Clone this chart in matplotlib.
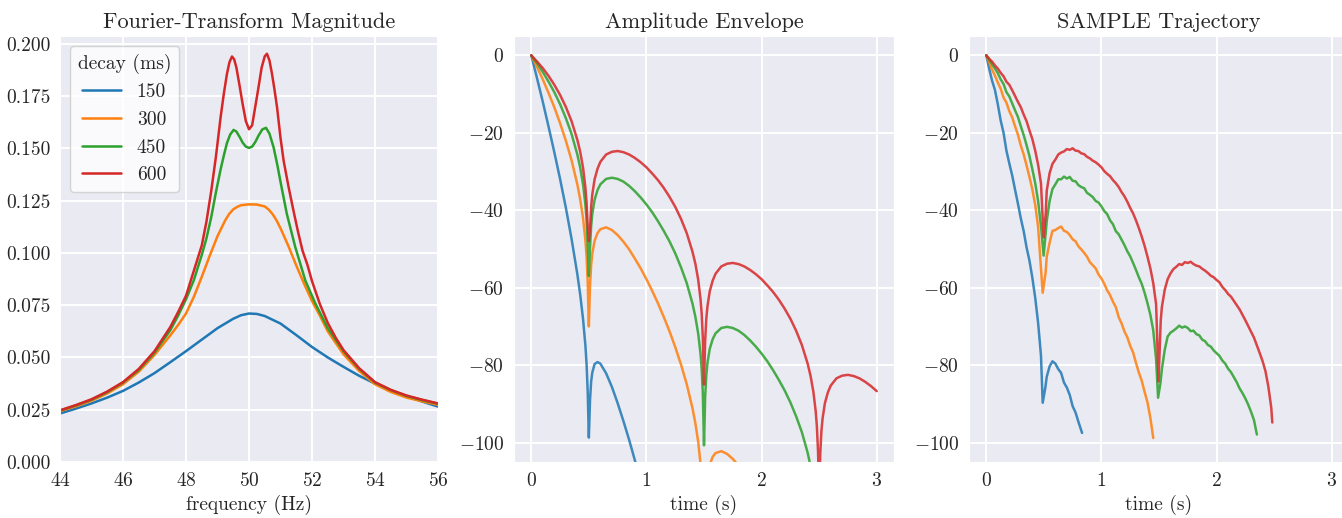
import matplotlib
matplotlib.use("Agg")
import matplotlib.pyplot as plt
import numpy as np
import seaborn as sns

sns.set_style("darkgrid")
plt.rcParams['font.family'] = 'serif'
plt.rcParams['font.serif'] = ['cmr10']
plt.rcParams['mathtext.fontset'] = 'cm'
plt.rcParams['axes.formatter.use_mathtext'] = True
plt.rcParams['grid.linewidth'] = 1.4

decays = ['150', '300', '450', '600']
colors = ['#1f77b4', '#ff7f0e', '#2ca02c', '#d62728']

# --- panel 1: spectrum magnitude
freq_600 = [44, 44.5, 45, 45.5, 46, 46.5, 47, 47.5, 47.75, 48, 48.25, 48.5, 48.65, 48.8,
            48.95, 49.1, 49.2, 49.3, 49.38, 49.46, 49.53, 49.6, 49.7, 49.8, 49.9, 50.0,
            50.1, 50.2, 50.3, 50.4, 50.5, 50.57, 50.65, 50.73, 50.81, 50.89, 51.0, 51.1,
            51.25, 51.4, 51.55, 51.7, 51.85, 52, 52.25, 52.5, 52.75, 53, 53.5, 54, 54.5,
            55, 55.5, 56]
mag_600 = [0.0247, 0.0272, 0.0300, 0.0337, 0.0382, 0.0445, 0.0530, 0.0645, 0.0717, 0.0795,
           0.0915, 0.1035, 0.1150, 0.1295, 0.1460, 0.1650, 0.1760, 0.1856, 0.1912, 0.1939,
           0.1925, 0.1886, 0.1800, 0.1710, 0.1630, 0.1591, 0.1610, 0.1700, 0.1790, 0.1885,
           0.1940, 0.1952, 0.1920, 0.1856, 0.1780, 0.1697, 0.1550, 0.1440, 0.1320, 0.1210,
           0.1105, 0.1010, 0.0945, 0.0865, 0.0755, 0.0665, 0.0595, 0.0535, 0.0448, 0.0382,
           0.0345, 0.0318, 0.0298, 0.0280]
freq_450 = [44, 44.5, 45, 45.5, 46, 46.5, 47, 47.5, 47.75, 48, 48.25, 48.5, 48.65, 48.8,
            48.95, 49.1, 49.2, 49.3, 49.4, 49.51, 49.6, 49.7, 49.8, 49.9, 50.0, 50.1,
            50.2, 50.3, 50.42, 50.54, 50.65, 50.78, 50.9, 51.0, 51.2, 51.47, 51.79, 52.1,
            52.5, 53, 53.5, 54, 54.5, 55, 55.5, 56]
mag_450 = [0.0246, 0.0270, 0.0298, 0.0334, 0.0380, 0.0440, 0.0523, 0.0630, 0.0700, 0.0778,
           0.0870, 0.0990, 0.1070, 0.1170, 0.1290, 0.1400, 0.1465, 0.1525, 0.1565, 0.1588,
           0.1580, 0.1555, 0.1527, 0.1508, 0.1502, 0.1508, 0.1530, 0.1560, 0.1590, 0.1598,
           0.1570, 0.1505, 0.1420, 0.1340, 0.1187, 0.1027, 0.0867, 0.0760, 0.0640, 0.0530,
           0.0445, 0.0380, 0.0344, 0.0316, 0.0296, 0.0279]
freq_300 = [44, 44.5, 45, 45.5, 46, 46.5, 47, 47.5, 47.75, 48, 48.25, 48.5, 48.75, 49,
            49.25, 49.375, 49.5, 49.625, 49.75, 50, 50.25, 50.5, 50.625, 50.75, 50.875,
            51, 51.25, 51.5, 51.75, 52, 52.25, 52.5, 53, 53.5, 54, 54.5, 55, 55.5, 56]
mag_300 = [0.0243, 0.0266, 0.0293, 0.0328, 0.0372, 0.0432, 0.0512, 0.0605, 0.0655, 0.0710,
           0.0790, 0.0885, 0.0985, 0.1080, 0.1157, 0.1187, 0.1208, 0.1220, 0.1228, 0.1232,
           0.1231, 0.1222, 0.1207, 0.1185, 0.1155, 0.1118, 0.1033, 0.0940, 0.0852, 0.0770,
           0.0700, 0.0625, 0.0515, 0.0435, 0.0372, 0.0335, 0.0308, 0.0290, 0.0274]
freq_150 = [44, 44.5, 45, 45.5, 46, 46.5, 47, 47.5, 48, 48.5, 49, 49.5, 49.75, 50, 50.25,
            50.5, 51, 51.5, 52, 52.5, 53, 53.5, 54, 54.5, 55, 55.5, 56]
mag_150 = [0.0232, 0.0255, 0.0280, 0.0308, 0.0340, 0.0380, 0.0425, 0.0477, 0.0530, 0.0585,
           0.0640, 0.0685, 0.0702, 0.0710, 0.0708, 0.0698, 0.0662, 0.0607, 0.0550, 0.0500,
           0.0455, 0.0412, 0.0375, 0.0343, 0.0315, 0.0289, 0.0265]

# --- panel 2: amplitude envelope (dB)
env_t = [0, 0.05, 0.1, 0.15, 0.2, 0.25, 0.3, 0.35, 0.4, 0.425, 0.45, 0.47, 0.48, 0.49,
         0.5, 0.51, 0.52, 0.53, 0.55, 0.575, 0.6, 0.65, 0.7, 0.75, 0.8, 0.85, 0.9, 0.95,
         1.0, 1.05, 1.1, 1.15, 1.2, 1.25, 1.3, 1.35, 1.4, 1.425, 1.45, 1.47, 1.48, 1.49,
         1.5, 1.51, 1.52, 1.53, 1.55, 1.575, 1.6, 1.65, 1.7, 1.75, 1.8, 1.85, 1.9, 1.95,
         2.0, 2.05, 2.1, 2.15, 2.2, 2.25, 2.3, 2.35, 2.4, 2.425, 2.45, 2.47, 2.48, 2.49,
         2.5, 2.51, 2.52, 2.53, 2.55, 2.575, 2.6, 2.65, 2.7, 2.75, 2.8, 2.85, 2.9, 2.95,
         3.0]
env_150 = [0, -5.9, -12.0, -18.4, -25.0, -31.9, -39.3, -47.4, -56.5, -61.8, -68.2, -74.9,
           -79.6, -86.8, -98.7, -89.1, -84.2, -81.9, -79.7, -79.2, -79.6, -82.1, -85.6,
           -89.8, -94.4, -99.3, -104.6, -110.0]
env_300 = [0, -3.0, -6.2, -9.7, -13.4, -17.5, -22.0, -27.1, -33.3, -37.2, -42.1, -47.7,
           -51.8, -58.4, -70.0, -59.5, -54.1, -51.2, -47.9, -45.9, -44.9, -44.4, -45.1,
           -46.4, -48.1, -50.1, -52.5, -55.0,
           -57.8, -60.8, -64.0, -67.5, -71.2, -75.3, -79.8, -84.9, -91.1, -95.0, -99.9,
           -105.5, -109.6, -116.2, -128.0, -117.3, -111.9, -109.0, -105.7, -103.7, -102.7,
           -102.2, -102.9, -104.2, -105.9, -107.9]
env_450 = [0, -2.0, -4.3, -6.8, -9.5, -12.6, -16.2, -20.3, -25.6, -29.0, -33.4, -38.6,
           -42.5, -48.9, -57.0, -49.7, -44.1, -40.9, -37.3, -34.8, -33.3, -31.9, -31.6,
           -31.9, -32.6, -33.7, -35.1, -36.7,
           -38.5, -40.5, -42.8, -45.3, -48.0, -51.1, -54.7, -58.8, -64.1, -67.5, -71.9,
           -77.1, -81.0, -87.4, -100.7, -88.2, -82.6, -79.4, -75.8, -73.3, -71.8, -70.4,
           -70.1, -70.4, -71.1, -72.2, -73.6, -75.2,
           -77.0, -79.0, -81.3, -83.8, -86.5, -89.6, -93.2, -97.3, -102.6, -106.0, -110.4]
env_600 = [0, -1.6, -3.3, -5.3, -7.6, -10.2, -13.3, -17.0, -21.8, -24.9, -29.1, -34.1,
           -37.9, -44.2, -48.0, -44.8, -39.1, -35.9, -32.0, -29.3, -27.5, -25.6, -24.9,
           -24.7, -25.0, -25.6, -26.5, -27.6,
           -28.9, -30.5, -32.2, -34.2, -36.5, -39.1, -42.2, -45.9, -50.7, -53.8, -58.0,
           -63.0, -66.8, -73.1, -85.0, -73.7, -68.0, -64.8, -60.9, -58.2, -56.4, -54.5,
           -53.8, -53.6, -53.9, -54.5, -55.4, -56.5,
           -57.8, -59.4, -61.1, -63.1, -65.4, -68.0, -71.1, -74.8, -79.6, -82.7, -86.9,
           -91.9, -95.7, -102.0, -113.3, -102.6, -96.9, -93.7, -89.8, -87.1, -85.3, -83.4,
           -82.7, -82.5, -82.8, -83.4, -84.3, -85.4,
           -86.7]

# --- panel 3: sampled trajectories (dB)
traj_t_150 = [0, 0.025, 0.05, 0.075, 0.1, 0.125, 0.15, 0.175, 0.2, 0.225, 0.25, 0.275,
              0.3, 0.325, 0.35, 0.375, 0.4, 0.425, 0.45, 0.475, 0.49, 0.513, 0.525, 0.55,
              0.575, 0.6, 0.625, 0.65, 0.675, 0.7, 0.725, 0.75, 0.775, 0.8, 0.832]
traj_150 = [0, -3.4, -6.5, -8.9, -12.6, -16.8, -20.0, -24.6, -27.9, -31.0, -34.7, -38.3,
            -42.1, -45.4, -49.6, -53.0, -57.4, -62.6, -69.0, -77.5, -89.7, -85.8, -83.0,
            -80.3, -79.0, -79.6, -81.0, -82.0, -84.5, -85.8, -87.7, -90.6, -92.2, -94.6,
            -97.5]
traj_t_300 = [0, 0.025, 0.05, 0.075, 0.1, 0.125, 0.15, 0.175, 0.2, 0.225, 0.25, 0.275,
              0.3, 0.325, 0.35, 0.375, 0.4, 0.425, 0.45, 0.475, 0.49, 0.515, 0.525, 0.55,
              0.575, 0.6, 0.625, 0.65, 0.675, 0.7, 0.725, 0.75, 0.775, 0.8, 0.825, 0.85,
              0.875, 0.9, 0.925, 0.95, 0.975, 1.0, 1.025, 1.05, 1.075, 1.1, 1.125, 1.15,
              1.175, 1.2, 1.225, 1.25, 1.275, 1.3, 1.325, 1.35, 1.375, 1.4, 1.425, 1.45]
traj_300 = [0, -1.8, -3.7, -5.2, -7.0, -8.6, -10.9, -12.2, -14.4, -16.0, -18.3, -20.5,
            -23.3, -25.6, -28.4, -31.4, -34.6, -38.6, -44.2, -55.0, -61.3, -56.2, -52.0,
            -48.4, -45.3, -45.1, -44.6, -44.2, -45.3, -45.6, -46.4, -47.5, -48.0, -49.3,
            -50.1, -51.0, -52.0, -53.4, -54.2, -55.0, -56.6, -57.6, -59.0, -60.7, -61.9,
            -63.6, -65.0, -67.6, -69.2, -71.3, -72.8, -75.0, -76.7, -79.4, -81.9, -84.0,
            -86.9, -89.6, -93.6, -98.8]
traj_t_450 = [0, 0.025, 0.05, 0.075, 0.1, 0.125, 0.15, 0.175, 0.2, 0.225, 0.25, 0.275,
              0.3, 0.325, 0.35, 0.375, 0.4, 0.425, 0.45, 0.475, 0.498, 0.516, 0.525, 0.55,
              0.575, 0.6, 0.625, 0.65, 0.675, 0.7, 0.725, 0.75, 0.775, 0.8, 0.825, 0.85,
              0.875, 0.9, 0.925, 0.95, 0.975, 1.0, 1.025, 1.05, 1.075, 1.1, 1.125, 1.15,
              1.175, 1.2, 1.225, 1.25, 1.275, 1.3, 1.325, 1.35, 1.375, 1.4, 1.425, 1.45,
              1.475, 1.492, 1.513, 1.525, 1.55, 1.575, 1.6, 1.625, 1.65, 1.675, 1.7, 1.725,
              1.75, 1.775, 1.8, 1.825, 1.85, 1.875, 1.9, 1.925, 1.95, 1.975, 2.0, 2.025,
              2.05, 2.075, 2.1, 2.125, 2.15, 2.175, 2.2, 2.225, 2.25, 2.275, 2.3, 2.325,
              2.35]
traj_450 = [0, -1.0, -2.3, -3.4, -4.6, -6.2, -7.4, -9.5, -10.6, -12.4, -14.2, -15.9,
            -18.3, -20.6, -23.2, -26.0, -29.4, -33.0, -37.6, -44.0, -51.7, -45.9, -42.8,
            -37.6, -34.5, -33.3, -32.0, -32.0, -31.3, -31.8, -31.4, -32.4, -32.5, -33.5,
            -34.0, -34.3, -35.5, -36.0, -36.6, -37.6, -38.0, -39.0, -40.2, -41.0, -42.6,
            -43.6, -45.4, -46.2, -47.6, -49.0, -50.6, -51.9, -53.6, -55.4, -57.3, -59.0,
            -61.3, -64.0, -67.0, -71.0, -78.5, -88.4, -84.5, -81.0, -76.0, -72.6, -71.6,
            -71.1, -70.5, -69.8, -70.3, -70.0, -70.4, -71.2, -71.1, -72.0, -72.3, -73.4,
            -73.8, -74.8, -75.2, -76.2, -76.9, -77.6, -78.8, -79.6, -80.9, -81.8, -83.1,
            -84.4, -86.0, -87.2, -88.6, -90.2, -92.1, -94.2, -97.9]
traj_t_600 = [0, 0.025, 0.05, 0.075, 0.1, 0.125, 0.15, 0.175, 0.2, 0.225, 0.25, 0.275,
              0.3, 0.325, 0.35, 0.375, 0.4, 0.425, 0.45, 0.475, 0.498, 0.516, 0.525, 0.55,
              0.575, 0.6, 0.625, 0.65, 0.675, 0.7, 0.725, 0.75, 0.775, 0.8, 0.825, 0.85,
              0.875, 0.9, 0.925, 0.95, 0.975, 1.0, 1.025, 1.05, 1.075, 1.1, 1.125, 1.15,
              1.175, 1.2, 1.225, 1.25, 1.275, 1.3, 1.325, 1.35, 1.375, 1.4, 1.425, 1.45,
              1.475, 1.496, 1.515, 1.525, 1.55, 1.575, 1.6, 1.625, 1.65, 1.675, 1.7, 1.725,
              1.75, 1.775, 1.8, 1.825, 1.85, 1.875, 1.9, 1.925, 1.95, 1.975, 2.0, 2.025,
              2.05, 2.075, 2.1, 2.125, 2.15, 2.175, 2.2, 2.225, 2.25, 2.275, 2.3, 2.325,
              2.35, 2.375, 2.4, 2.425, 2.45, 2.475, 2.484]
traj_600 = [0, -0.9, -1.6, -2.6, -3.4, -4.5, -5.4, -6.8, -7.6, -9.0, -10.5, -12.0,
            -13.4, -15.3, -17.0, -19.4, -21.6, -24.6, -28.2, -33.0, -47.0, -40.9, -35.0,
            -30.4, -28.0, -26.9, -25.6, -25.1, -24.8, -24.2, -24.4, -24.0, -24.6, -24.7,
            -25.3, -25.5, -26.2, -26.6, -27.2, -27.6, -28.2, -28.9, -29.9, -30.6, -31.2,
            -32.2, -33.0, -34.0, -35.3, -36.4, -37.8, -39.4, -40.8, -42.6, -44.6, -46.8,
            -49.2, -52.0, -55.0, -58.8, -64.3, -84.2, -68.5, -65.0, -60.5, -57.8, -56.3,
            -55.2, -54.6, -53.9, -54.1, -53.4, -53.6, -53.3, -53.9, -54.3, -54.5, -55.1,
            -55.6, -56.2, -56.9, -57.3, -58.0, -58.6, -59.8, -60.6, -61.6, -62.3, -63.4,
            -64.5, -65.6, -67.0, -68.4, -69.9, -71.4, -72.9, -74.9, -76.9, -79.0, -81.6,
            -85.6, -91.0, -94.8]

W, H = 1342, 518
fig = plt.figure(figsize=(W / 100, H / 100), dpi=100)
ax1 = fig.add_axes([60 / W, 1 - 462 / H, 378 / W, 426 / H])
ax2 = fig.add_axes([514 / W, 1 - 462 / H, 380 / W, 426 / H])
ax3 = fig.add_axes([969 / W, 1 - 462 / H, 380 / W, 426 / H])

fs = 14
lw = 1.8

ax1.plot(freq_150, mag_150, color=colors[0], lw=lw, label=decays[0])
ax1.plot(freq_300, mag_300, color=colors[1], lw=lw, label=decays[1])
ax1.plot(freq_450, mag_450, color=colors[2], lw=lw, label=decays[2])
ax1.plot(freq_600, mag_600, color=colors[3], lw=lw, label=decays[3])
ax1.set_xlim(44, 56)
ax1.set_ylim(0, 0.2037)
ax1.set_xticks([44, 46, 48, 50, 52, 54, 56])
ax1.set_yticks([0, 0.025, 0.05, 0.075, 0.1, 0.125, 0.15, 0.175, 0.2])
ax1.set_yticklabels(['0.000', '0.025', '0.050', '0.075', '0.100', '0.125', '0.150',
                     '0.175', '0.200'])
ax1.set_title('Fourier-Transform Magnitude', fontsize=16)
ax1.set_xlabel('frequency (Hz)', fontsize=fs)
ax1.legend(title='decay (ms)', loc='upper left', fontsize=fs, title_fontsize=fs,
           facecolor='white', edgecolor='0.8', framealpha=0.8)

for vals, c in zip([env_150, env_300, env_450, env_600], colors):
    ax2.plot(env_t[:len(vals)], vals, color=c, lw=lw, alpha=0.85)
ax2.set_title('Amplitude Envelope', fontsize=16)

trajs = [(traj_t_150, traj_150), (traj_t_300, traj_300),
         (traj_t_450, traj_450), (traj_t_600, traj_600)]
for (tt, vals), c in zip(trajs, colors):
    ax3.plot(tt, vals, color=c, lw=lw, alpha=0.85)
ax3.set_title('SAMPLE Trajectory', fontsize=16)

for ax in (ax2, ax3):
    ax.set_xlim(-0.15, 3.15)
    ax.set_ylim(-105, 5)
    ax.set_xticks([0, 1, 2, 3])
    ax.set_yticks([0, -20, -40, -60, -80, -100])
    ax.set_xlabel('time (s)', fontsize=fs)

for ax in (ax1, ax2, ax3):
    ax.tick_params(labelsize=fs)

fig.savefig('out.png', dpi=100)
